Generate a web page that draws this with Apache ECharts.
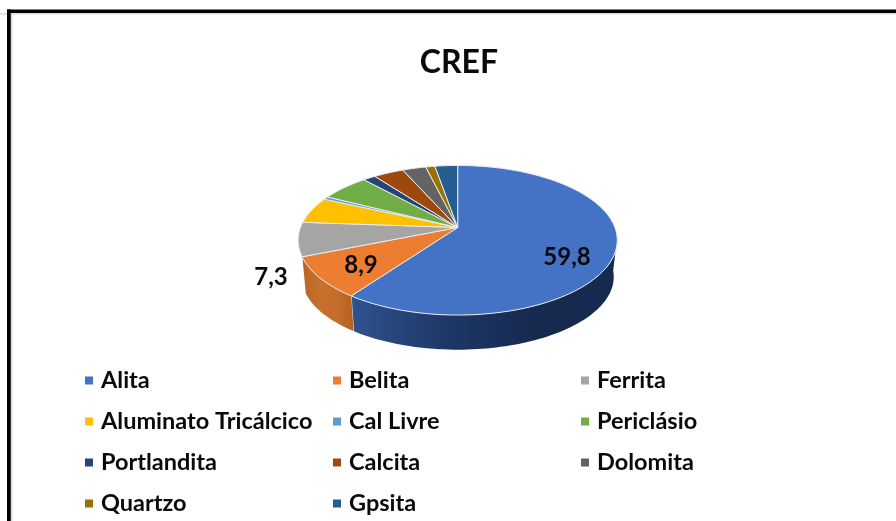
<!DOCTYPE html>
<html>
<head>
<meta charset="utf-8">
<style>html,body{margin:0;padding:0;background:#fff}#c{width:896px;height:521px}</style>
<script src="https://cdn.jsdelivr.net/npm/echarts@6/dist/echarts.min.js"></script>
</head>
<body>
<div id="c"></div>
<script>
const categories = ['Alita','Belita','Ferrita','Aluminato Tricálcico','Cal Livre','Periclásio','Portlandita','Calcita','Dolomita','Quartzo','Gpsita'];
const values = [59.8,8.9,7.3,5.7,0.6,5.8,1.5,3.6,2.8,1.1,2.7];
const colors = ['#4472C4','#ED7D31','#A5A5A5','#FFC000','#5B9BD5','#70AD47','#264478','#9E480E','#636363','#997300','#255E91'];
const labelled = [true,true,true,false,false,false,false,false,false,false,false];

// perspective view of the pie disc
const CX = 457.7, CY = 227.5, A = 157.2, B = 72.6, K = 0.1706;
const TOP = {sx:1, sy:1, dy:0}, BOTTOM = {sx:0.978, sy:0.973, dy:37};
const WALL_TOP_FROM = 108, WALL_BOTTOM_FROM = 95, WALL_TO = 247.4;
const LABEL_XY = {0:[567,257],1:[361,265],2:[271,277]};
const WALL_GRAD = {
  0:['#30528F','#1E3867','#16294F','#16294F'],
  1:['#B8642A','#C8702C','#C46C2A','#B5601F']
};

const total = values.reduce((a,b)=>a+b,0);
function proj(deg, r, f){
  const t = deg*Math.PI/180, x = Math.sin(t)*r, y = -Math.cos(t)*r, w = 1-K*y;
  return [CX + f.sx*A*x/w, CY + f.dy + f.sy*B*y/w];
}
function arc(t0, t1, f){
  const pts = [], n = Math.max(2, Math.ceil(Math.abs(t1-t0)/1.5));
  for(let i=0;i<=n;i++) pts.push(proj(t0+(t1-t0)*i/n, 1, f));
  return pts;
}
function renderSlice(idx){
  return function(params, api){
    const before = values.slice(0,idx).reduce((a,b)=>a+b,0);
    const t0 = before/total*360, t1 = (before+api.value(0))/total*360;
    const children = [];
    const a = Math.max(t0, WALL_TOP_FROM), e = Math.min(t1, WALL_TO);
    if(e > a){
      const b = Math.max(t0, WALL_BOTTOM_FROM);
      const g = WALL_GRAD[idx] || ['#888','#888','#888','#888'];
      const rimTop = arc(a,e,TOP), rimBottom = arc(e,b,BOTTOM);
      children.push({type:'polygon', shape:{points:rimTop.concat(rimBottom)},
        style:{fill:new echarts.graphic.LinearGradient(0,0,1,0,[
          {offset:0,color:g[0]},{offset:0.35,color:g[1]},{offset:0.7,color:g[2]},{offset:1,color:g[3]}
        ])}});
      if(t1 <= WALL_TO){
        children.push({type:'polyline', shape:{points:[proj(t1,1,TOP),proj(t1,1,BOTTOM)]},
          style:{stroke:'#DDE3EC',lineWidth:1,fill:'none'}});
      }
    }
    const pts = [[CX,CY]].concat(arc(t0,t1,TOP));
    children.push({type:'polygon', shape:{points:pts},
      style:{fill:colors[idx], stroke:'#E9EBEF', lineWidth:1, lineJoin:'round'}});
    return {type:'group', children};
  };
}
function renderLabel(idx){
  return function(params, api){
    if(!labelled[idx]) return {type:'group',children:[]};
    const p = LABEL_XY[idx];
    return {type:'text', z2:50, style:{
      text: api.value(0).toFixed(1).replace('.',','),
      x:p[0], y:p[1], fill:'#0A0A0A', align:'center', verticalAlign:'middle',
      font:'bold 24px Lato'
    }};
  };
}
const series = categories.map((name,i)=>({
  type:'custom', name, coordinateSystem:'none', renderItem:renderSlice(i),
  data:[[values[i]]], itemStyle:{color:colors[i]}, silent:true, clip:false, z:2
})).concat(categories.map((name,i)=>({
  type:'custom', name:name+' (rótulo)', coordinateSystem:'none', renderItem:renderLabel(i),
  data:[[values[i]]], silent:true, clip:false, z:5
})));

const chart = echarts.init(document.getElementById('c'), null, {renderer:'canvas'});
chart.setOption({
  animation:false,
  backgroundColor:'#fff',
  title:{text:'CREF', left:454, top:58, textAlign:'center', textVerticalAlign:'middle',
    textStyle:{fontFamily:'Lato', fontWeight:'bold', fontSize:32, color:'#0A0A0A'}},
  legend:{
    data:categories, left:85, top:360, width:760, orient:'horizontal', padding:0,
    itemGap:0, itemWidth:8, itemHeight:8, icon:'rect', selectedMode:false,
    textStyle:{fontFamily:'Lato', fontWeight:'bold', fontSize:23.5, color:'#0A0A0A',
      width:232, lineHeight:41, padding:[0,0,0,3], overflow:'none'}
  },
  graphic:[
    {type:'rect', shape:{x:0,y:13,width:896,height:1.5}, style:{fill:'#DCDCDC'}},
    {type:'rect', shape:{x:11,y:13,width:1.5,height:508}, style:{fill:'#DCDCDC'}},
    {type:'rect', shape:{x:7,y:9.5,width:889,height:3.5}, style:{fill:'#000'}},
    {type:'rect', shape:{x:7,y:9.5,width:3.8,height:512}, style:{fill:'#000'}}
  ],
  series
});
</script>
</body>
</html>
